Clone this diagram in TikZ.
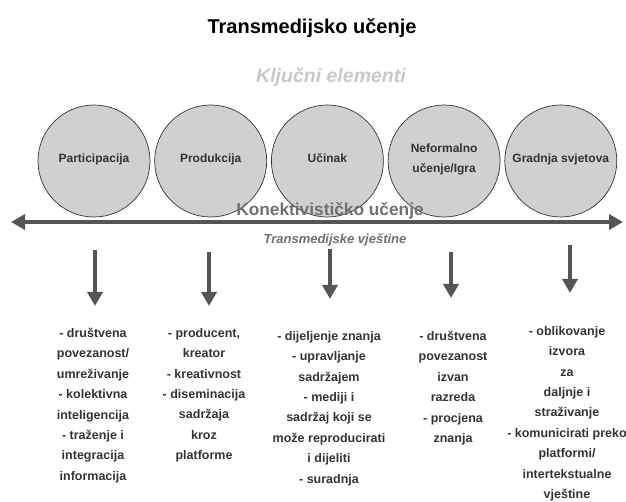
\documentclass[tikz,border=0pt]{standalone}
\usepackage{fontspec}
\setmainfont{Liberation Sans}
\usepackage{tikz}
\usetikzlibrary{arrows.meta, positioning}
\definecolor{circlegray}{RGB}{208,208,208}
\definecolor{darkgray}{RGB}{51,51,51}
\definecolor{arrowgray}{RGB}{85,85,85}
\definecolor{softgray}{RGB}{200,200,200}
\definecolor{midgray}{RGB}{112,112,112}

\begin{document}
\begin{tikzpicture}[
	  x=1pt, y=-1pt,
	  element_style/.style={
	  	circle,
	  	draw=darkgray,
	  	line width=0.7pt,
	  	fill=circlegray,
	  	minimum size=112pt,
	  	inner sep=0pt,
	  	align=center,
	  	text=darkgray,
	  	font=\fontsize{12}{20}\selectfont\bfseries
	  },
	  skill_style/.style={
	  	anchor=north,
	  	align=center,
	  	inner sep=0pt,
	  	text=darkgray,
	  	font=\fontsize{12.5}{20.4}\selectfont\bfseries
	  },
	  down_arrow/.style={
	  	arrowgray,
	  	line width=4.5pt,
	  	-{Triangle[width=15pt,length=14pt]}
	  },
	  node distance=4pt]
	\useasboundingbox (0,0) rectangle (626,502);
	% Title
	\node[font=\fontsize{20}{24}\selectfont\bfseries] (title) at (312,28) {Transmedijsko učenje};
	\node[font=\fontsize{19.5}{23}\selectfont\bfseries\itshape, text=softgray] (kljucni) at (331,77) {Ključni elementi};
	% Elements
	\node[element_style] (e1) at (94,161) {\raisebox{6pt}{Participacija}};
	\node[element_style, right=of e1] (e2) {\raisebox{6pt}{Produkcija}};
	\node[element_style, right=of e2] (e3) {\raisebox{6pt}{Učinak}};
	\node[element_style, right=of e3] (e4) {\raisebox{5pt}{\shortstack{Neformalno\\[8pt]učenje/Igra}}};
	\node[element_style, right=of e4] (e5) {\raisebox{6pt}{Gradnja svjetova}};
	% Axis
	\coordinate (axl) at (11,222);
	\coordinate (axr) at (623,222);
	\draw[arrowgray, line width=4pt, {Triangle[width=15pt,length=14pt]}-{Triangle[width=15pt,length=14pt]}] (axl) -- (axr);
	\node[font=\fontsize{17.3}{20}\selectfont\bfseries, text=midgray] (konekt) at (330,211) {Konektivističko učenje};
	\node[font=\fontsize{13}{15}\selectfont\bfseries\itshape, text=midgray] (vjestine) at (335,240) {Transmedijske vještine};
	% Skills
	\node[skill_style] (s1) at (93,328) {- društvena\\povezanost/\\umreživanje\\- kolektivna\\inteligencija\\- traženje i\\integracija\\informacija};
	\node[skill_style] (s2) at (204,328) {- producent,\\kreator\\- kreativnost\\- diseminacija\\sadržaja\\kroz\\platforme};
	\node[skill_style] (s3) at (329,331) {- dijeljenje znanja\\- upravljanje\\sadržajem\\- mediji i\\sadržaj koji se\\može reproducirati\\i dijeliti\\- suradnja};
	\node[skill_style] (s4) at (453,331) {- društvena\\povezanost\\izvan\\razreda\\- procjena\\znanja};
	\node[skill_style] (s5) at (567,326) {- oblikovanje\\izvora\\za\\daljnje i\\straživanje\\- komunicirati preko\\platformi/\\intertekstualne\\vještine};
	% Arrows
	\coordinate (a1) at (95,250);  \coordinate (b1) at (95,306);
	\coordinate (a2) at (209,252); \coordinate (b2) at (209,306);
	\coordinate (a3) at (330,249); \coordinate (b3) at (330,299);
	\coordinate (a4) at (451,252); \coordinate (b4) at (451,298);
	\coordinate (a5) at (570,245); \coordinate (b5) at (570,293);
	\foreach \i in {1,...,5}
		\draw[down_arrow] (a\i) -- (b\i);
\end{tikzpicture}
\end{document}
